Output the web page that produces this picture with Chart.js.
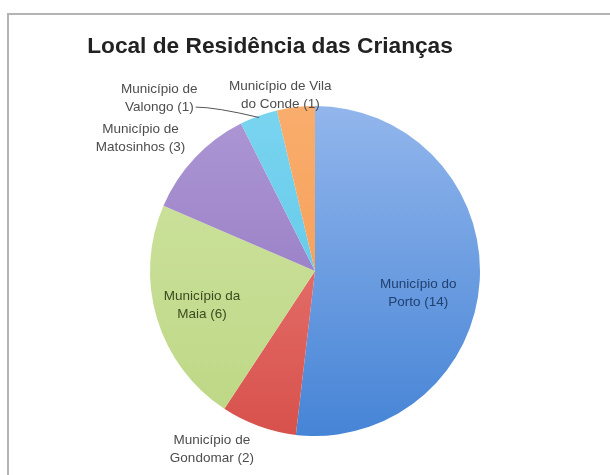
<!DOCTYPE html>
<html>
<head>
<meta charset="utf-8">
<script src="https://cdn.jsdelivr.net/npm/chart.js@4.4.1/dist/chart.umd.min.js"></script>
<style>
  html, body { margin: 0; padding: 0; background: #fff; }
  #wrap { width: 610px; height: 475px; position: relative; }
</style>
</head>
<body>
<div id="wrap"><canvas id="pie" width="610" height="475"></canvas></div>
<script>
// Children's place of residence, by municipality
const chartTitle = 'Local de Residência das Crianças';
const categoryLines = [
  ['Município do', 'Porto'],
  ['Município de', 'Gondomar'],
  ['Município da', 'Maia'],
  ['Município de', 'Matosinhos'],
  ['Município de', 'Valongo'],
  ['Município de Vila', 'do Conde']
];
const categories = categoryLines.map(l => l.join(' '));
const counts = [14, 2, 6, 3, 1, 1];

// slice colours: light (top) and dark (bottom) ends of each gradient
const lightColors = ['#92b6ec', '#ec8580', '#d0e4a2', '#ad97d4', '#7ad4f0', '#f9ad6c'];
const darkColors  = ['#4684d6', '#d8514c', '#bcd784', '#8c70bd', '#55c3e6', '#f4984e'];
const labelColors = ['#22406f', '#4d4d4d', '#3b4a20', '#4d4d4d', '#4d4d4d', '#4d4d4d'];

// label placement: angle shift (deg) from slice middle, and radius factor
const labelLayout = [
  { shift: 9,   k: 0.64 },
  { shift: 10,  k: 1.25 },
  { shift: 0,   k: 0.715 },
  { shift: -6,  k: 1.33 },
  { shift: -22, k: 1.41, leader: true },
  { shift: -4.5, k: 1.085 }
];

function sliceFill(ctx) {
  const chart = ctx.chart;
  const area = chart.chartArea;
  if (!area) return lightColors[ctx.dataIndex];
  const g = chart.ctx.createLinearGradient(0, area.top, 0, area.bottom);
  g.addColorStop(0, lightColors[ctx.dataIndex]);
  g.addColorStop(1, darkColors[ctx.dataIndex]);
  return g;
}

// grey frame along the top and left edges, plus the heading
const framePlugin = {
  id: 'frame',
  beforeDraw(chart) {
    const c = chart.ctx;
    c.save();
    c.strokeStyle = '#b4b4b4';
    c.lineWidth = 2;
    c.beginPath();
    c.moveTo(8, chart.height);
    c.lineTo(8, 14);
    c.lineTo(chart.width, 14);
    c.stroke();
    c.fillStyle = '#222222';
    c.font = 'bold 22.7px "Liberation Sans", Arial, sans-serif';
    c.textAlign = 'center';
    c.textBaseline = 'middle';
    c.fillText(chartTitle, 270, 47);
    c.restore();
  }
};

const sliceLabels = {
  id: 'sliceLabels',
  afterDatasetsDraw(chart) {
    const c = chart.ctx;
    const meta = chart.getDatasetMeta(0);
    c.save();
    c.font = '13.5px "Liberation Sans", Arial, sans-serif';
    c.textAlign = 'center';
    c.textBaseline = 'middle';
    meta.data.forEach((arc, i) => {
      const lay = labelLayout[i];
      const mid = (arc.startAngle + arc.endAngle) / 2;
      const a = mid + lay.shift * Math.PI / 180;
      const r = arc.outerRadius * lay.k;
      const x = arc.x + Math.cos(a) * r;
      const y = arc.y + Math.sin(a) * r;
      const lines = [categoryLines[i][0], categoryLines[i][1] + ' (' + counts[i] + ')'];
      c.fillStyle = labelColors[i];
      c.fillText(lines[0], x, y - 9);
      c.fillText(lines[1], x, y + 9);
      if (lay.leader) {
        const w = c.measureText(lines[1]).width;
        const ex = arc.x + Math.cos(mid) * arc.outerRadius * 0.99;
        const ey = arc.y + Math.sin(mid) * arc.outerRadius * 0.99;
        c.strokeStyle = '#555555';
        c.lineWidth = 1;
        c.beginPath();
        c.moveTo(x + w / 2 + 2, y + 9);
        c.quadraticCurveTo(x + w / 2 + 22, y + 9, ex, ey);
        c.stroke();
      }
    });
    c.restore();
  }
};

new Chart(document.getElementById('pie'), {
  type: 'pie',
  data: {
    labels: categories,
    datasets: [{
      data: counts,
      backgroundColor: sliceFill,
      borderWidth: 0
    }]
  },
  options: {
    responsive: false,
    animation: false,
    layout: { padding: { top: 106, bottom: 39, left: 20, right: 0 } },
    plugins: {
      legend: { display: false },
      tooltip: { enabled: false },
      title: { display: false }
    }
  },
  plugins: [framePlugin, sliceLabels]
});
</script>
</body>
</html>
